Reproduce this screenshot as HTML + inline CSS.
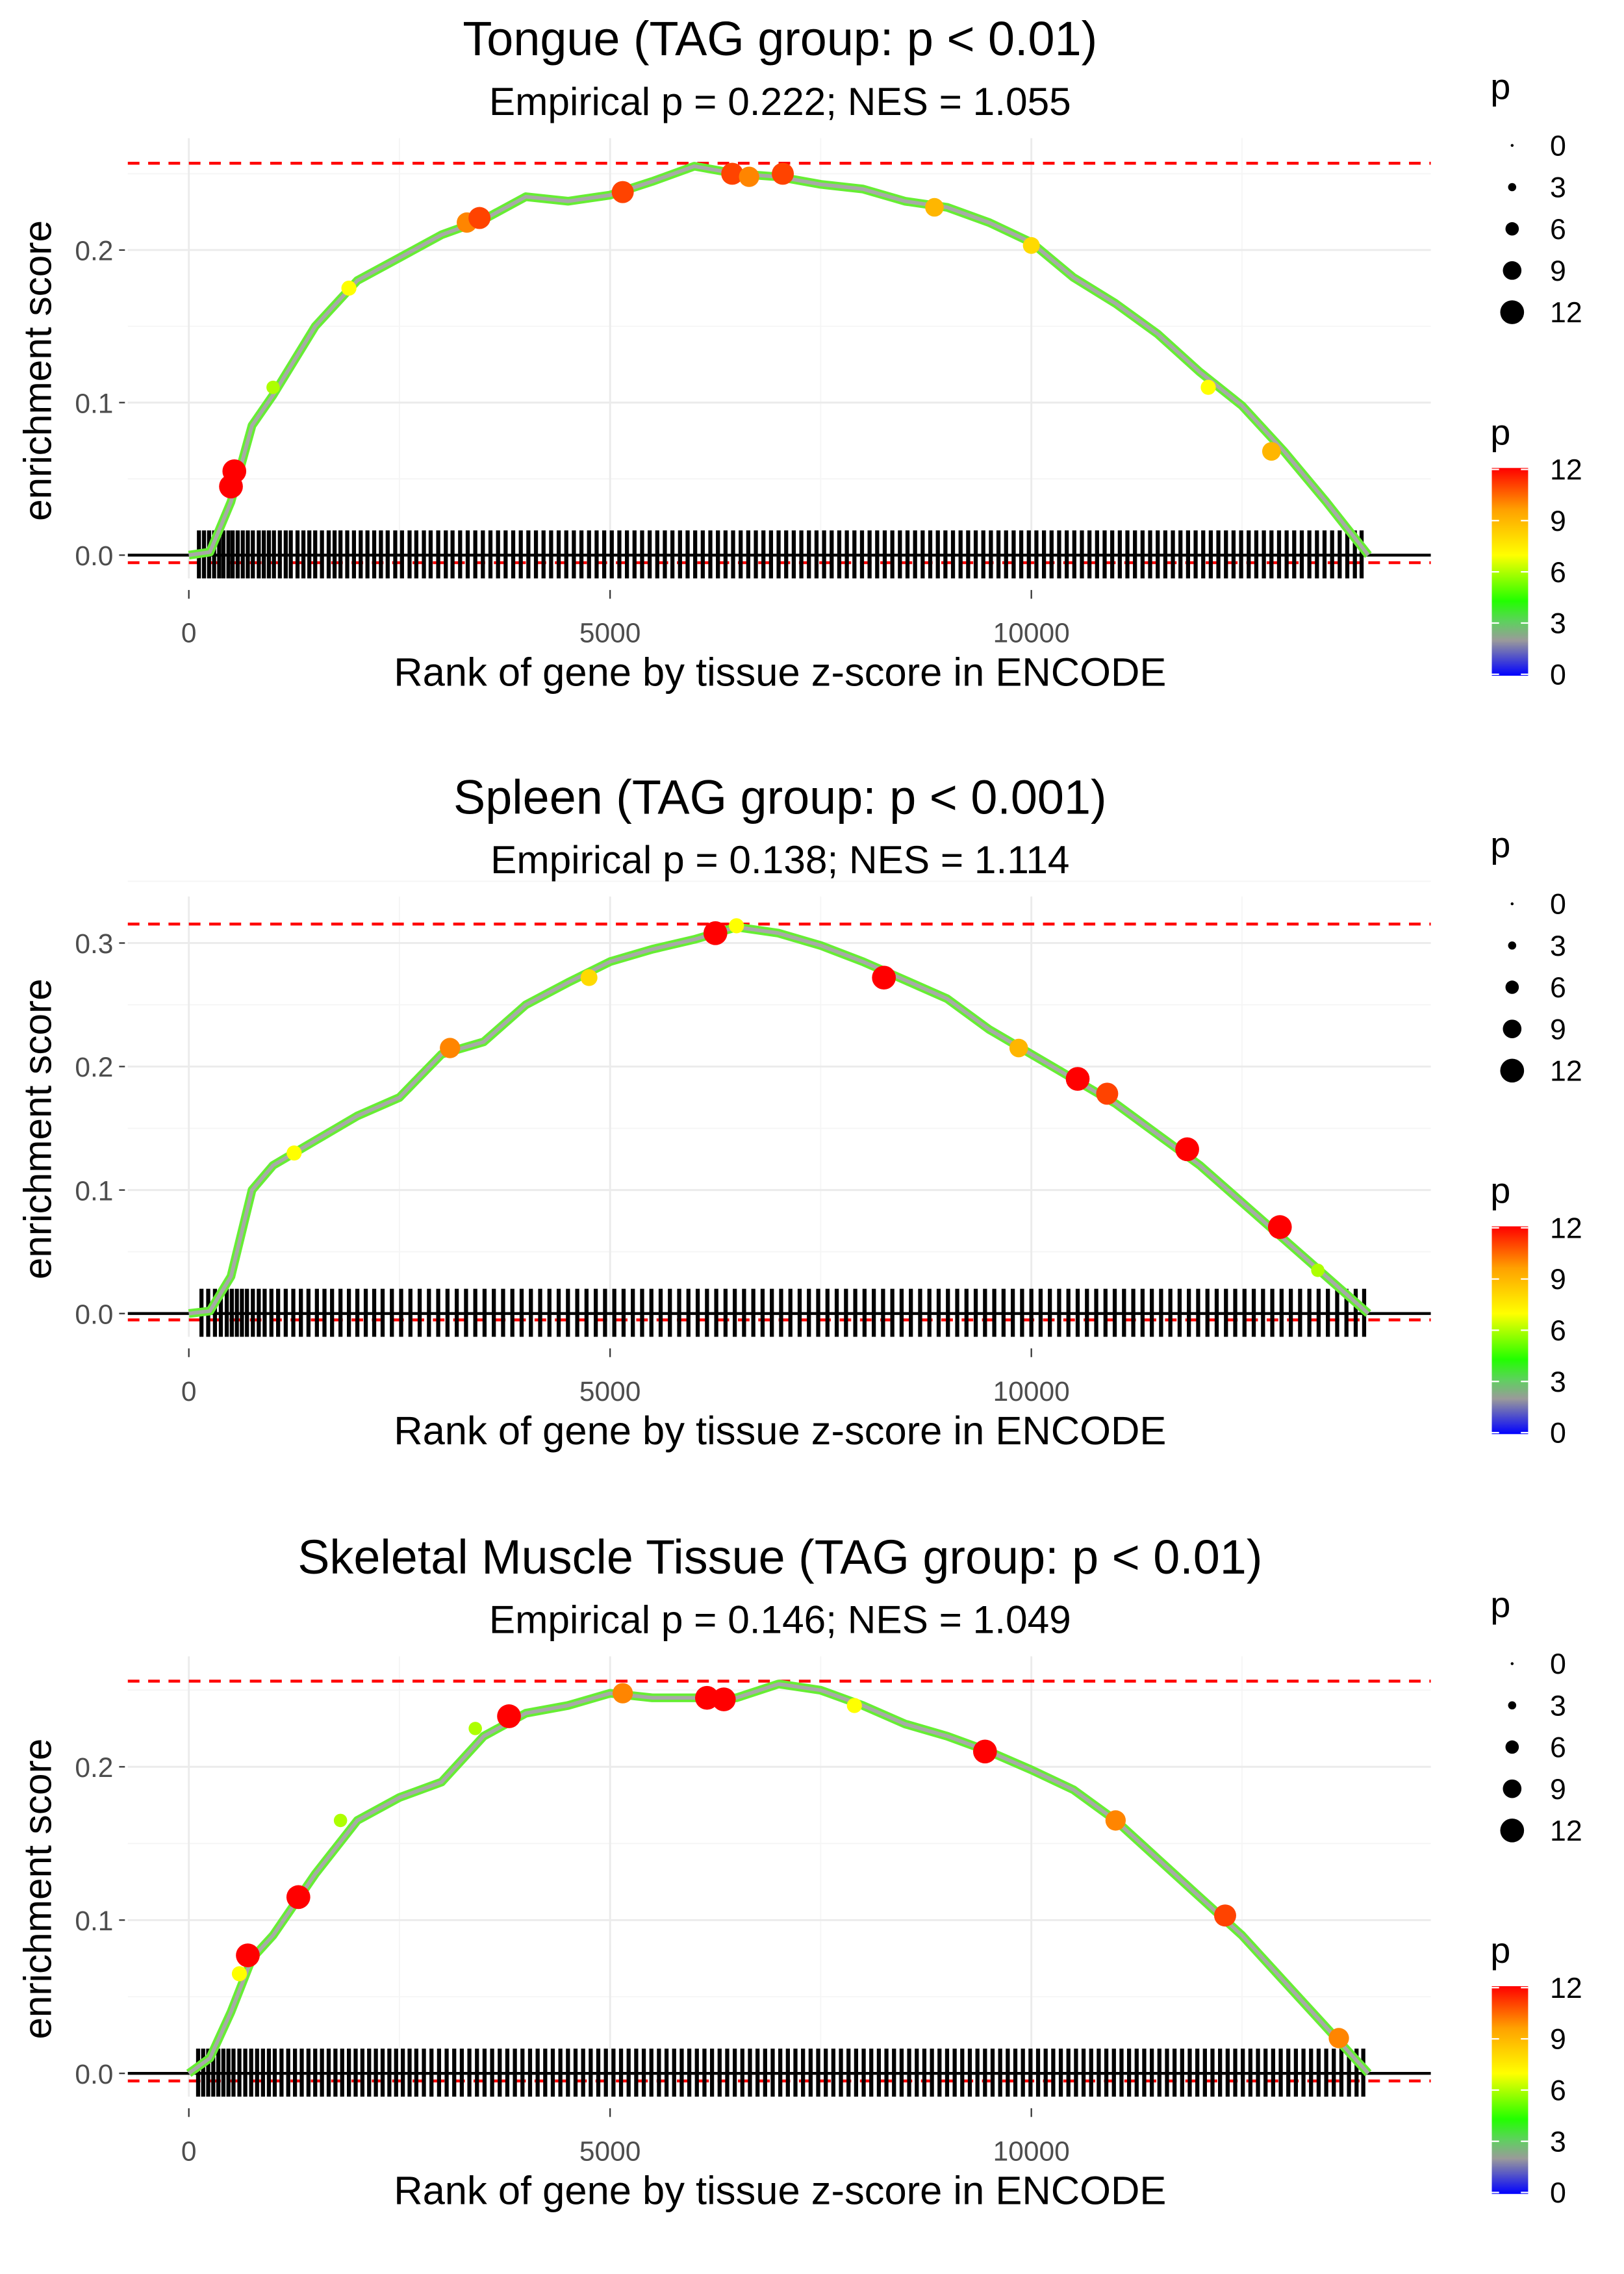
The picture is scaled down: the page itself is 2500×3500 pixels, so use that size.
<!DOCTYPE html>
<html><head><meta charset="utf-8"><style>
html,body{margin:0;padding:0;background:#fff;}
svg{display:block;font-family:"Liberation Sans",sans-serif;}
</style></head><body>
<svg id="chart" width="2500" height="3500" viewBox="0 0 1118 1565" xmlns="http://www.w3.org/2000/svg">
<defs>
<linearGradient id="cbar" x1="0" y1="1" x2="0" y2="0">
<stop offset="0" stop-color="#0000ff"/><stop offset="0.17" stop-color="#9a9a9a"/><stop offset="0.26" stop-color="#5fd05f"/><stop offset="0.36" stop-color="#22ff00"/><stop offset="0.58" stop-color="#ffff00"/><stop offset="0.8" stop-color="#ffa000"/><stop offset="1" stop-color="#ff0000"/>
</linearGradient>
</defs>
<g id="root"></g>
</svg>
<script>
// Panel 1: Tongue
const p1Ranks=[0,250,500,750,1000,1500,2000,2500,3000,3500,4000,4500,5000,5500,6000,6500,7000,7500,8000,8500,9000,9500,10000,10500,11000,11500,12000,12500,13000,13500,14000];
const p1ES=[0,0.002,0.035,0.085,0.105,0.15,0.18,0.195,0.21,0.22,0.235,0.232,0.236,0.245,0.255,0.25,0.248,0.243,0.24,0.232,0.228,0.218,0.205,0.182,0.165,0.145,0.12,0.098,0.068,0.035,0];
const p1PtRank=[500,540,1000,1900,3300,3450,5150,6450,6650,7050,8850,10000,12100,12850];
const p1PtES=[0.045,0.055,0.11,0.175,0.218,0.221,0.238,0.25,0.248,0.25,0.228,0.203,0.11,0.068];
const p1PtP=[12,12,6,7,10,11,11,11,10,11,9,8,7,9];
// Panel 2: Spleen
const p2Ranks=[0,250,500,750,1000,1500,2000,2500,3000,3500,4000,4500,5000,5500,6000,6500,7000,7500,8000,8500,9000,9500,10000,10500,11000,11500,12000,12500,13000,13500,14000];
const p2ES=[0,0.002,0.03,0.1,0.12,0.14,0.16,0.175,0.21,0.22,0.25,0.268,0.285,0.295,0.303,0.313,0.308,0.298,0.285,0.27,0.255,0.23,0.21,0.19,0.17,0.145,0.12,0.09,0.06,0.03,0];
const p2PtRank=[1250,3100,4750,6250,6500,8250,9850,10550,10900,11850,12950,13400];
const p2PtES=[0.13,0.215,0.272,0.308,0.314,0.272,0.215,0.19,0.178,0.133,0.07,0.035];
const p2PtP=[7,10,8,12,7,12,9,12,11,12,12,6];
// Panel 3: Skeletal Muscle Tissue
const p3Ranks=[0,250,500,750,1000,1500,2000,2500,3000,3500,4000,4500,5000,5500,6000,6500,7000,7500,8000,8500,9000,9500,10000,10500,11000,11500,12000,12500,13000,13500,14000];
const p3ES=[0,0.01,0.04,0.075,0.09,0.13,0.165,0.18,0.19,0.22,0.235,0.24,0.248,0.245,0.245,0.245,0.254,0.25,0.24,0.228,0.22,0.21,0.198,0.185,0.165,0.14,0.115,0.09,0.06,0.03,0];
const p3PtRank=[600,700,1300,1800,3400,3800,5150,6150,6350,7900,9450,11000,12300,13650];
const p3PtES=[0.065,0.077,0.115,0.165,0.225,0.233,0.248,0.245,0.244,0.24,0.21,0.165,0.103,0.023];
const p3PtP=[7,12,12,6,6,12,10,12,12,7,12,10,11,10];
// Rug (hit ranks)
const p1Rug=[120,180,240,300,360,410,470,520,580,640,700,760,830,890,950,1010,1080,1150,1210,1290,1360,1430,1500,1580,1660,1730,1800,1880,1960,2040,2120,2200,2280,2360,2450,2530,2620,2700,2790,2870,2960,3050,3130,3220,3310,3400,3490,3580,3670,3760,3850,3940,4030,4120,4210,4300,4390,4480,4570,4660,4750,4840,4930,5020,5110,5200,5290,5380,5470,5560,5650,5740,5830,5920,6010,6100,6190,6280,6370,6460,6550,6640,6730,6820,6910,7000,7090,7180,7270,7360,7450,7540,7630,7720,7810,7900,7990,8080,8170,8260,8350,8440,8530,8620,8710,8800,8890,8980,9070,9160,9250,9340,9430,9520,9610,9700,9790,9880,9970,10060,10150,10240,10330,10420,10510,10600,10690,10780,10870,10960,11050,11140,11230,11320,11410,11500,11590,11680,11770,11860,11950,12040,12130,12220,12310,12400,12490,12580,12670,12760,12850,12940,13030,13120,13210,13300,13390,13480,13570,13660,13750,13840,13920];
const p2Rug=[150,230,310,380,450,510,570,630,690,760,830,900,980,1060,1150,1240,1330,1420,1520,1610,1700,1800,1900,2000,2100,2200,2300,2410,2520,2630,2740,2850,2960,3070,3180,3290,3400,3510,3620,3730,3840,3950,4060,4170,4280,4390,4500,4610,4720,4830,4940,5050,5160,5270,5380,5490,5600,5710,5820,5930,6040,6150,6260,6370,6480,6590,6700,6810,6920,7030,7140,7250,7360,7470,7580,7690,7800,7910,8020,8130,8240,8350,8460,8570,8680,8790,8900,9010,9120,9230,9340,9450,9560,9670,9780,9890,10000,10110,10220,10330,10440,10550,10660,10770,10880,10990,11100,11210,11320,11430,11540,11650,11760,11870,11980,12090,12200,12310,12420,12530,12640,12750,12860,12970,13080,13190,13300,13410,13520,13630,13740,13850,13950];
const p3Rug=[110,170,230,290,350,410,470,530,600,670,740,810,880,950,1020,1100,1180,1260,1340,1420,1500,1580,1660,1740,1820,1900,1980,2060,2140,2220,2300,2380,2460,2540,2620,2700,2790,2880,2970,3060,3150,3240,3330,3420,3510,3600,3690,3780,3870,3960,4050,4140,4230,4320,4410,4500,4590,4680,4770,4860,4950,5040,5130,5220,5310,5400,5490,5580,5670,5760,5850,5940,6030,6120,6210,6300,6390,6480,6570,6660,6750,6840,6930,7020,7110,7200,7290,7380,7470,7560,7650,7740,7830,7920,8010,8100,8190,8280,8370,8460,8550,8640,8730,8820,8910,9000,9090,9180,9270,9360,9450,9540,9630,9720,9810,9900,9990,10080,10170,10260,10350,10440,10530,10620,10710,10800,10890,10980,11070,11160,11250,11340,11430,11520,11610,11700,11790,11880,11970,12060,12150,12240,12330,12420,12510,12600,12690,12780,12870,12960,13050,13140,13230,13320,13410,13500,13590,13680,13770,13860,13940];
const xTicks=[0,5000,10000];
const xTickLabels=["0","5000","10000"];
const p1YTicks=[0,0.1,0.2];
const p2YTicks=[0,0.1,0.2,0.3];
const p3YTicks=[0,0.1,0.2];
const legendSizes=[0,3,6,9,12];
const colorbarLabels=[12,9,6,3,0];

const NS="http://www.w3.org/2000/svg";
const root=document.getElementById('root');
function mk(tag,attrs,parent,text){const e=document.createElementNS(NS,tag);for(const k in attrs)e.setAttribute(k,attrs[k]);if(text!==undefined)e.textContent=text;(parent||root).appendChild(e);return e;}
const X0=130,XK=0.058,PL=88,PR=985;
function xs(r){return X0+r*XK;}
const stops=[[0,[0,0,255]],[2,[154,154,154]],[3.2,[95,208,95]],[4.3,[34,255,0]],[7,[255,255,0]],[9.6,[255,160,0]],[12,[255,0,0]]];
function pcol(p){for(let i=1;i<stops.length;i++){if(p<=stops[i][0]){const a=stops[i-1],b=stops[i];const t=(p-a[0])/(b[0]-a[0]);const c=a[1].map((v,j)=>Math.round(v+(b[1][j]-v)*t));return `rgb(${c.join(',')})`;}}return 'rgb(255,0,0)';}
function prad(p){return 1+p*0.6;}

function panel(cfg){
  const g=mk('g',{});
  
  
  const ys=v=>cfg.y0-v*cfg.k;
  const top=cfg.off+95,bot=cfg.off+398;
  [2500,7500,12500].forEach(r=>{const l=mk('line',{x1:xs(r),x2:xs(r),y1:top,y2:bot,stroke:'#f5f5f5','stroke-width':0.8},g);});
  cfg.yt.forEach(v=>{const l=mk('line',{x1:PL,x2:PR,y1:ys(v+0.05),y2:ys(v+0.05),stroke:'#f5f5f5','stroke-width':0.8},g);});
  xTicks.forEach((r,i)=>{
    const l=mk('line',{x1:xs(r),x2:xs(r),y1:top,y2:bot,stroke:'#ebebeb','stroke-width':1.3},g);
    
    const tk=mk('line',{x1:xs(r),x2:xs(r),y1:bot+8,y2:bot+14,stroke:'#333','stroke-width':1},g);
    
    const t=mk('text',{x:xs(r),y:cfg.off+442,'text-anchor':'middle','font-size':19,fill:'#4d4d4d'},g,xTickLabels[i]);
    
  });
  cfg.yt.forEach(v=>{
    const l=mk('line',{x1:PL,x2:PR,y1:ys(v),y2:ys(v),stroke:'#ebebeb','stroke-width':1.3},g);
    
    const tk=mk('line',{x1:82,x2:86,y1:ys(v),y2:ys(v),stroke:'#333','stroke-width':1},g);
    
    const t=mk('text',{x:78,y:ys(v)+7,'text-anchor':'end','font-size':19,fill:'#4d4d4d'},g,v.toFixed(1));
    
  });
  const mx=Math.max(...cfg.es),mn=Math.min(...cfg.es)-0.004;
  const d1=mk('line',{x1:PL,x2:PR,y1:ys(mx)-2,y2:ys(mx)-2,stroke:'#ff0000','stroke-width':2,'stroke-dasharray':'8,6'},g);
  
  const d2=mk('line',{x1:PL,x2:PR,y1:ys(mn)+1,y2:ys(mn)+1,stroke:'#ff0000','stroke-width':2,'stroke-dasharray':'8,6'},g);
  
  const rg=mk('g',{},g);
  
  cfg.rug.forEach(r=>{const l=mk('line',{x1:xs(r),x2:xs(r),y1:cfg.y0-17,y2:cfg.y0+16,stroke:'#000','stroke-width':2.8},rg);});
  const z=mk('line',{x1:PL,x2:PR,y1:cfg.y0,y2:cfg.y0,stroke:'#000','stroke-width':2},g);
  
  let d='';cfg.ranks.forEach((r,i)=>{d+=(i?'L':'M')+xs(r).toFixed(1)+','+ys(cfg.es[i]).toFixed(1);});
  const c1=mk('path',{d:d,fill:'none',stroke:'#66ee33','stroke-width':6,'stroke-linejoin':'round'},g);
  
  const c2=mk('path',{d:d,fill:'none',stroke:'#a8a8a8','stroke-width':2.5,'stroke-linejoin':'round'},g);
  
  cfg.pr.forEach((r,i)=>{
    const c=mk('circle',{cx:xs(r),cy:ys(cfg.pe[i]),r:prad(cfg.pp[i]),fill:pcol(cfg.pp[i])},g);
    
  });
  const t1=mk('text',{x:537,y:cfg.off+38,'text-anchor':'middle','font-size':33,fill:'#000'},g,cfg.title);
  
  const t2=mk('text',{x:537,y:cfg.off+79,'text-anchor':'middle','font-size':27,fill:'#000'},g,cfg.sub);
  
  const xt=mk('text',{x:537,y:cfg.off+472,'text-anchor':'middle','font-size':27.5,fill:'#000'},g,'Rank of gene by tissue z-score in ENCODE');
  
  const yc=cfg.off+255;
  const yt=mk('text',{x:35,y:yc,'text-anchor':'middle','font-size':27,fill:'#000',transform:`rotate(-90 35 ${yc})`},g,'enrichment score');
  
  const lg=mk('g',{},g);
  
  const lt=mk('text',{x:1026,y:cfg.off+68,'font-size':25,fill:'#000'},lg,'p');
  
  legendSizes.forEach((s,i)=>{
    const cy=cfg.off+100+i*28.7;
    const c=mk('circle',{cx:1041,cy:cy,r:Math.max(1,prad(s)),fill:'#000'},lg);
    
    const t=mk('text',{x:1067,y:cy+7,'font-size':20,fill:'#000'},lg,String(s));
    
  });
  const cg=mk('g',{},g);
  
  const ct=mk('text',{x:1026,y:cfg.off+306,'font-size':25,fill:'#000'},cg,'p');
  
  const bar=mk('rect',{x:1027,y:cfg.off+322,width:25,height:143,fill:'url(#cbar)'},cg);
  
  colorbarLabels.forEach(v=>{
    const y=cfg.off+464-v*(141/12);
    mk('line',{x1:1027,x2:1032,y1:y,y2:y,stroke:'#fff','stroke-width':1},cg);
    mk('line',{x1:1047,x2:1052,y1:y,y2:y,stroke:'#fff','stroke-width':1},cg);
    const t=mk('text',{x:1067,y:y+7,'font-size':20,fill:'#000'},cg,String(v));
    
  });
}
panel({name:'panel-tongue',off:0,y0:382,k:1050,yt:p1YTicks,ranks:p1Ranks,es:p1ES,pr:p1PtRank,pe:p1PtES,pp:p1PtP,rug:p1Rug,title:'Tongue (TAG group: p < 0.01)',sub:'Empirical p = 0.222; NES = 1.055'});
panel({name:'panel-spleen',off:522,y0:904,k:850,yt:p2YTicks,ranks:p2Ranks,es:p2ES,pr:p2PtRank,pe:p2PtES,pp:p2PtP,rug:p2Rug,title:'Spleen (TAG group: p < 0.001)',sub:'Empirical p = 0.138; NES = 1.114'});
panel({name:'panel-skeletal-muscle',off:1045,y0:1427,k:1055,yt:p3YTicks,ranks:p3Ranks,es:p3ES,pr:p3PtRank,pe:p3PtES,pp:p3PtP,rug:p3Rug,title:'Skeletal Muscle Tissue (TAG group: p < 0.01)',sub:'Empirical p = 0.146; NES = 1.049'});
</script>
</body></html>
